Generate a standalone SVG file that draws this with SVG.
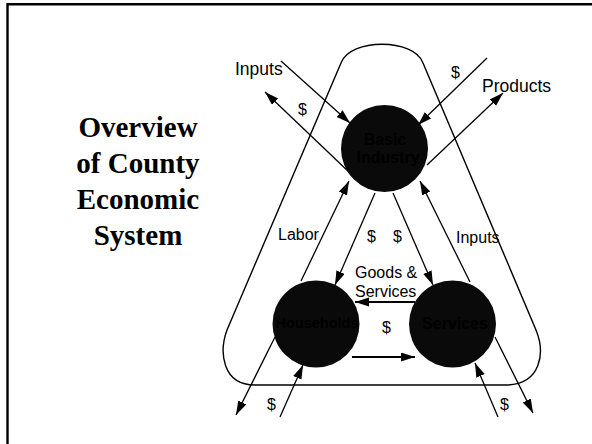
<svg xmlns="http://www.w3.org/2000/svg" width="592" height="444" viewBox="0 0 592 444">
<defs>
<marker id="ah" markerUnits="userSpaceOnUse" markerWidth="15" markerHeight="10" refX="14" refY="4.5" orient="auto">
<path d="M0,0 L14,4.5 L0,9 Z" fill="#000"/>
</marker>
<style>
.lbl{font-family:"Liberation Sans",Arial,sans-serif;font-size:16px;fill:#000}
.big{font-size:17.5px}
.node{fill:#0a0a0a}
.ntxt{font-family:"Liberation Sans",Arial,sans-serif;font-weight:bold;fill:#000;text-anchor:middle}
.ttl{font-family:"Liberation Serif","Times New Roman",serif;font-weight:bold;font-size:29px;fill:#000;text-anchor:middle}
.c{stroke:#000;stroke-width:1.3;fill:none;marker-end:url(#ah)}
.ct{stroke:#000;stroke-width:2.2;fill:none;marker-end:url(#ah)}
</style>
</defs>
<rect width="592" height="444" fill="#fff"/>
<path d="M7.5,444 V4.3 H592" fill="none" stroke="#000" stroke-width="2.4"/>
<g id="title">
<text class="ttl" x="138" y="137">Overview</text>
<text class="ttl" x="138" y="173">of County</text>
<text class="ttl" x="138" y="209">Economic</text>
<text class="ttl" x="138" y="245">System</text>
</g>
<g id="outline">
<path d="M341,63 C350,38 414,38 423,63 L536,330 C545,352 542,385 505,385 L255,385 C222,385 219,352 227,330 Z" fill="none" stroke="#000" stroke-width="1.4"/>
</g>
<g id="connectors">
<line class="c" x1="281" y1="61" x2="350" y2="123"/>
<line class="c" x1="350" y1="173" x2="265" y2="92"/>
<line class="c" x1="487" y1="58" x2="418" y2="125"/>
<line class="c" x1="427" y1="165" x2="503" y2="93"/>
<line class="c" x1="301" y1="281" x2="349" y2="181"/>
<line class="c" x1="375" y1="193" x2="335" y2="285"/>
<line class="c" x1="393" y1="193" x2="433" y2="285"/>
<line class="c" x1="470" y1="282" x2="420" y2="181"/>
<line class="ct" x1="415" y1="302" x2="355" y2="302"/>
<line class="ct" x1="352" y1="357" x2="415" y2="357"/>
<line class="c" x1="275" y1="337" x2="236" y2="415"/>
<line class="c" x1="280" y1="417" x2="303" y2="365"/>
<line class="c" x1="498" y1="417" x2="475" y2="363"/>
<line class="c" x1="495" y1="337" x2="533" y2="413"/>
</g>
<g id="basic-industry">
<circle class="node" cx="384.5" cy="148.5" r="43.5"/>
<text class="ntxt" x="385" y="145" font-size="16">Basic</text>
<text class="ntxt" x="388" y="163" font-size="16">Industry</text>
</g>
<g id="households">
<circle class="node" cx="316" cy="324" r="43.5"/>
<text class="ntxt" x="317" y="328" font-size="14.5">Households</text>
</g>
<g id="services">
<circle class="node" cx="452.5" cy="324" r="43.5"/>
<text class="ntxt" x="455" y="329" font-size="16">Services</text>
</g>
<g id="labels">
<text class="lbl big" x="235" y="75">Inputs</text>
<text class="lbl big" x="482" y="92">Products</text>
<text class="lbl" x="451" y="78">$</text>
<text class="lbl" x="298" y="115">$</text>
<text class="lbl" x="278" y="240">Labor</text>
<text class="lbl" x="367" y="242">$</text>
<text class="lbl" x="393" y="242">$</text>
<text class="lbl" x="456" y="243">Inputs</text>
<text class="lbl" x="355" y="278">Goods &amp;</text>
<text class="lbl" x="355" y="297">Services</text>
<text class="lbl" x="382" y="333">$</text>
<text class="lbl" x="267" y="410">$</text>
<text class="lbl" x="500" y="410">$</text>
</g>
</svg>
